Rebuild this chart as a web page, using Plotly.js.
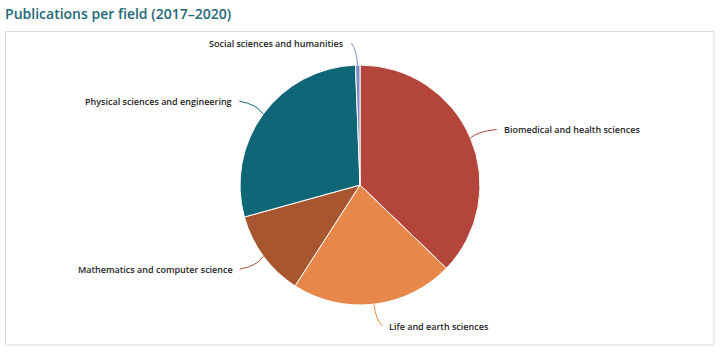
<!DOCTYPE html>
<html>
<head>
<meta charset="utf-8">
<script src="https://cdn.plot.ly/plotly-3.0.1.min.js"></script>
<style>
  html, body { margin: 0; padding: 0; background: #fff; }
  #chart { width: 720px; height: 353px; }
</style>
</head>
<body>
<div id="chart"></div>
<script>
// ---- data ----
var fields = [
  "Biomedical and health sciences",
  "Life and earth sciences",
  "Mathematics and computer science",
  "Physical sciences and engineering",
  "Social sciences and humanities"
];
var shares = [37.2, 21.9, 11.6, 28.7, 0.6];
var sliceColors = ["#b3453a", "#e8874a", "#a8562f", "#0f6676", "#7d8cc4"];
var chartTitle = "Publications per field (2017–2020)";

// ---- layout geometry (pixels) ----
var W = 720, H = 353;
var cx = 360, cy = 185, R = 120;
function X(px) { return px / W; }
function Y(py) { return 1 - py / H; }

var total = shares.reduce(function (a, b) { return a + b; }, 0);
var annotations = [];
var shapes = [];

// chart border
shapes.push({
  type: "rect", xref: "paper", yref: "paper",
  x0: X(5.5), x1: X(714), y0: Y(345), y1: Y(31.5),
  line: { color: "#d3dfe0", width: 1 }, fillcolor: "rgba(0,0,0,0)", layer: "below"
});

var cum = 0;
var labelDist = 22;
for (var i = 0; i < shares.length; i++) {
  var start = cum / total * 360;
  cum += shares[i];
  var end = cum / total * 360;
  var mid = (start + end) / 2 * Math.PI / 180;
  var s = Math.sin(mid), c = Math.cos(mid);
  var px = cx + R * s, py = cy - R * c;
  var lx = cx + (R + labelDist) * s, ly = cy - (R + labelDist) * c;
  var left = (start + end) / 2 > 180;
  var sign = left ? -1 : 1;
  var ex = lx + sign * 6, ey = ly;
  var tx = lx + sign * 12;
  var ctrlx = px + (ex - px) * 0.25, ctrly = ey + (py - ey) * 0.25;
  shapes.push({
    type: "path", xref: "paper", yref: "paper",
    path: "M " + X(px) + "," + Y(py) + " Q " + X(ctrlx) + "," + Y(ctrly) + " " + X(ex) + "," + Y(ey),
    line: { color: sliceColors[i], width: 1 }
  });
  annotations.push({
    xref: "paper", yref: "paper", x: X(tx), y: Y(ly),
    xanchor: left ? "right" : "left", yanchor: "middle",
    text: fields[i], showarrow: false, borderpad: 0,
    font: { family: "Open Sans, sans-serif", size: 9, color: "#1e1e1e", weight: 600 }
  });
}

var data = [{
  type: "pie",
  labels: fields,
  values: shares,
  sort: false,
  direction: "clockwise",
  rotation: 0,
  textinfo: "none",
  hoverinfo: "label+percent",
  marker: { colors: sliceColors, line: { color: "#ffffff", width: 1 } },
  domain: { x: [X(cx - R), X(cx + R)], y: [Y(cy + R), Y(cy - R)] },
  showlegend: false
}];

var layout = {
  width: W, height: H,
  margin: { l: 0, r: 0, t: 0, b: 0 },
  paper_bgcolor: "#ffffff",
  showlegend: false,
  title: {
    text: chartTitle,
    x: 0.007, xanchor: "left", xref: "container",
    y: 1 - 14 / H, yanchor: "middle", yref: "container",
    font: { family: "Open Sans, sans-serif", size: 14, color: "#22697a", weight: 600 }
  },
  shapes: shapes,
  annotations: annotations
};

Plotly.newPlot("chart", data, layout, { displayModeBar: false, staticPlot: true });
</script>
</body>
</html>
